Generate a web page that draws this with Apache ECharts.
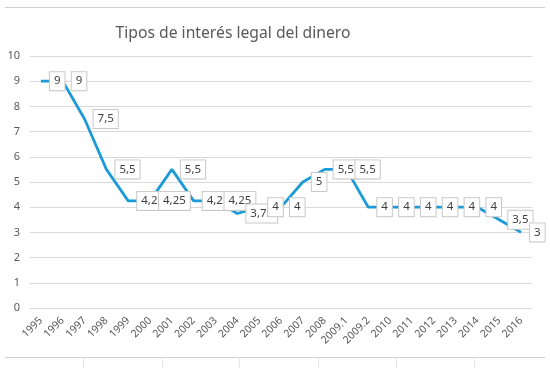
<!DOCTYPE html>
<html><head><meta charset="utf-8">
<script src="https://cdn.jsdelivr.net/npm/echarts@6/dist/echarts.min.js"></script>
<style>html,body{margin:0;padding:0;background:#fff}#c{width:550px;height:368px}</style>
</head><body><div id="c"></div>
<script>
const categories = ['1995','1996','1997','1998','1999','2000','2001','2002','2003','2004','2005','2006','2007','2008','2009.1','2009.2','2010','2011','2012','2013','2014','2015','2016'];
const values = [9, 9, 7.5, 5.5, 4.25, 4.25, 5.5, 4.25, 4.25, 3.75, 4, 4, 5, 5.5, 5.5, 4, 4, 4, 4, 4, 4, 3.5, 3];
const yTicks = [0,1,2,3,4,5,6,7,8,9,10];
const FONT = '"Noto Sans", sans-serif';
const chart = echarts.init(document.getElementById('c'));
chart.setOption({
  animation: false,
  title: {
    text: 'Tipos de interés legal del dinero',
    left: 228, top: 21, textAlign: 'center',
    textStyle: {fontFamily: FONT, fontSize: 15.7, fontWeight: 'normal', color: '#595959'}
  },
  grid: {left: 30, right: 18, top: 56, bottom: 60, containLabel: false},
  xAxis: {
    type: 'category', data: categories, boundaryGap: true,
    axisLine: {lineStyle: {color: '#d9d9d9', width: 1}},
    axisTick: {show: false},
    axisLabel: {rotate: 45, interval: 0, margin: 11, fontFamily: FONT, fontSize: 10.5, color: '#595959'}
  },
  yAxis: {
    type: 'value', min: yTicks[0], max: yTicks[yTicks.length-1], interval: 1,
    axisLine: {show: false}, axisTick: {show: false},
    splitLine: {lineStyle: {color: '#d9d9d9', width: 1}},
    axisLabel: {margin: 10, fontFamily: FONT, fontSize: 11, color: '#595959'}
  },
  series: [{
    type: 'line', data: values, symbol: 'circle', symbolSize: 2, showSymbol: true,
    itemStyle: {color: 'rgba(27,154,215,0)', borderWidth: 0},
    lineStyle: {color: '#1b9ad7', width: 2.75},
    label: {
      show: true, position: 'right', distance: 8,
      formatter: p => String(p.value).replace('.', ','),
      fontFamily: FONT, fontSize: 11.5, color: '#404040',
      backgroundColor: '#fff', borderColor: '#c8c8c8', borderWidth: 1,
      padding: [3, 4, 3, 4]
    },
    labelLayout: {hideOverlap: false}
  }],
  graphic: [
    {type: 'line', shape: {x1: 5, y1: 7.5, x2: 545, y2: 7.5}, style: {stroke: '#d0d0d0', lineWidth: 1}},
    {type: 'line', shape: {x1: 5, y1: 357.5, x2: 545, y2: 357.5}, style: {stroke: '#d0d0d0', lineWidth: 1}},
    {type: 'line', shape: {x1: 83.5, y1: 357, x2: 83.5, y2: 368}, style: {stroke: '#e6e6e6', lineWidth: 1}},
    {type: 'line', shape: {x1: 162.5, y1: 357, x2: 162.5, y2: 368}, style: {stroke: '#e6e6e6', lineWidth: 1}},
    {type: 'line', shape: {x1: 239.5, y1: 357, x2: 239.5, y2: 368}, style: {stroke: '#e6e6e6', lineWidth: 1}},
    {type: 'line', shape: {x1: 318.5, y1: 357, x2: 318.5, y2: 368}, style: {stroke: '#e6e6e6', lineWidth: 1}},
    {type: 'line', shape: {x1: 396.5, y1: 357, x2: 396.5, y2: 368}, style: {stroke: '#e6e6e6', lineWidth: 1}},
    {type: 'line', shape: {x1: 474.5, y1: 357, x2: 474.5, y2: 368}, style: {stroke: '#e6e6e6', lineWidth: 1}}
  ]
});
</script></body></html>
